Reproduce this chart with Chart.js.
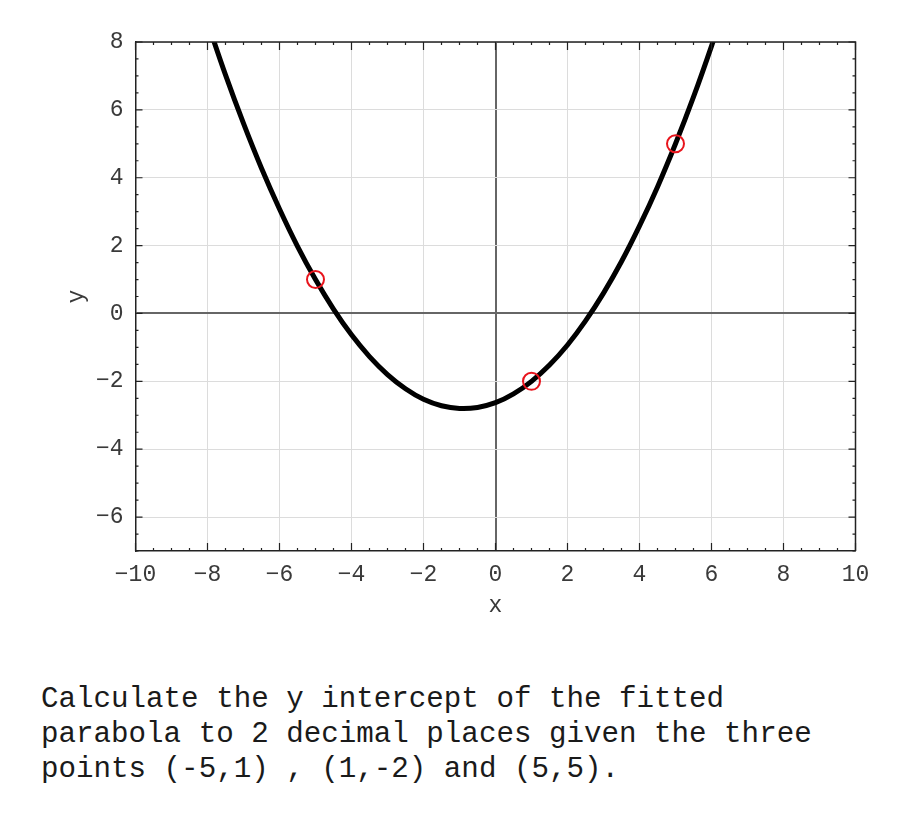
<!DOCTYPE html>
<html>
<head>
<meta charset="utf-8">
<script src="https://cdn.jsdelivr.net/npm/chart.js@4.4.1/dist/chart.umd.min.js"></script>
<style>
    body { margin: 0; background: #fff; }
    #wrap { position: absolute; left: 0; top: 0; width: 900px; height: 640px; }
    #question {
        position: absolute; left: 41px; top: 682px; margin: 0;
        font: 29.2px 'Liberation Mono', monospace; line-height: 35px;
        color: #1a1a1a; white-space: pre;
    }
</style>
</head>
<body>
<div id="wrap"><canvas id="chart"></canvas></div>
<p id="question">Calculate the y intercept of the fitted
parabola to 2 decimal places given the three
points (-5,1) , (1,-2) and (5,5).</p>
<script>
// fitted curve
const curveX = [-8, -7.5, -7, -6.5, -6, -5.5, -5, -4.5, -4, -3.5, -3, -2.5, -2, -1.5, -1, -0.5,
                0, 0.5, 1, 1.5, 2, 2.5, 3, 3.5, 4, 4.5, 5, 5.5, 6, 6.5];
const curveY = [8.58, 7.03, 5.60, 4.28, 3.08, 1.98, 1.00, 0.13, -0.63, -1.27, -1.80, -2.22, -2.53, -2.72, -2.80, -2.77,
                -2.63, -2.37, -2.00, -1.52, -0.93, -0.22, 0.60, 1.53, 2.58, 3.73, 5.00, 6.38, 7.88, 9.48];

// the three given points
const pointX = [-5, 1, 5];
const pointY = [1, -2, 5];

// axes
const xRange = [-10, 10];
const yRange = [-7, 8];
const xTicks = [-10, -8, -6, -4, -2, 0, 2, 4, 6, 8, 10];
const yTicks = [-6, -4, -2, 0, 2, 4, 6, 8];
const minorStep = 0.5;

const monoFont = "'Liberation Mono', monospace";

// frame on top/right and small inward tick marks on all four sides
const frameTicks = {
    id: 'frameTicks',
    afterDatasetsDraw(chart) {
        const { ctx, chartArea: a, scales: { x, y } } = chart;
        ctx.save();
        ctx.strokeStyle = '#222';
        ctx.lineWidth = 1.5;
        ctx.beginPath();
        ctx.moveTo(a.left, a.top); ctx.lineTo(a.right, a.top); ctx.lineTo(a.right, a.bottom);
        ctx.stroke();

        ctx.lineWidth = 1.2;
        ctx.beginPath();
        for (let v = xRange[0]; v <= xRange[1]; v += minorStep) {
            const px = x.getPixelForValue(v);
            const len = v % 2 === 0 ? 8 : 3;
            ctx.moveTo(px, a.bottom); ctx.lineTo(px, a.bottom - len);
            ctx.moveTo(px, a.top); ctx.lineTo(px, a.top + len);
        }
        for (let v = yRange[0]; v <= yRange[1]; v += minorStep) {
            const py = y.getPixelForValue(v);
            const len = v % 2 === 0 ? 7 : 3;
            ctx.moveTo(a.left, py); ctx.lineTo(a.left + len, py);
            ctx.moveTo(a.right, py); ctx.lineTo(a.right - len, py);
        }
        ctx.stroke();
        ctx.restore();
    }
};

const gridColor = c => c.tick && c.tick.value === 0 ? '#666' : '#dcdcdc';
const gridWidth = c => c.tick && c.tick.value === 0 ? 2 : 1;

new Chart(document.getElementById('chart'), {
    type: 'scatter',
    data: {
        datasets: [
            {
                label: 'points',
                data: pointX.map((v, i) => ({ x: v, y: pointY[i] })),
                pointStyle: 'circle',
                pointRadius: 8.5,
                pointBorderWidth: 2,
                pointBorderColor: '#e8141c',
                pointBackgroundColor: 'rgba(0,0,0,0)',
                showLine: false,
                order: 0
            },
            {
                label: 'parabola',
                data: curveX.map((v, i) => ({ x: v, y: curveY[i] })),
                showLine: true,
                borderColor: '#000',
                borderWidth: 5,
                pointRadius: 0,
                tension: 0.4,
                order: 1
            }
        ]
    },
    options: {
        responsive: true,
        maintainAspectRatio: false,
        animation: false,
        layout: { padding: { top: 42, right: 44.5, left: 0, bottom: 0 } },
        plugins: {
            legend: { display: false },
            tooltip: { enabled: false }
        },
        scales: {
            x: {
                type: 'linear',
                min: xRange[0],
                max: xRange[1],
                afterBuildTicks: s => { s.ticks = xTicks.map(v => ({ value: v })); },
                afterFit: s => { s.height = 89; },
                grid: { color: gridColor, lineWidth: gridWidth, drawTicks: false },
                border: { color: '#222', width: 1.5 },
                ticks: {
                    padding: 10,
                    color: '#3a3a3a',
                    font: { family: monoFont, size: 23 },
                    callback: v => String(v).replace('-', '\u2212')
                },
                title: {
                    display: true,
                    text: 'x',
                    color: '#3a3a3a',
                    font: { family: monoFont, size: 23 },
                    padding: { top: 0, bottom: 20 }
                }
            },
            y: {
                type: 'linear',
                min: yRange[0],
                max: yRange[1],
                afterBuildTicks: s => { s.ticks = yTicks.map(v => ({ value: v })); },
                afterFit: s => { s.width = 135.5; },
                grid: { color: gridColor, lineWidth: gridWidth, drawTicks: false },
                border: { color: '#222', width: 1.5 },
                ticks: {
                    padding: 12,
                    color: '#3a3a3a',
                    font: { family: monoFont, size: 23 },
                    callback: v => String(v).replace('-', '\u2212')
                },
                title: {
                    display: true,
                    text: 'y',
                    color: '#3a3a3a',
                    font: { family: monoFont, size: 23 },
                    padding: { top: 63, bottom: 0 }
                }
            }
        }
    },
    plugins: [frameTicks]
});
</script>
</body>
</html>
